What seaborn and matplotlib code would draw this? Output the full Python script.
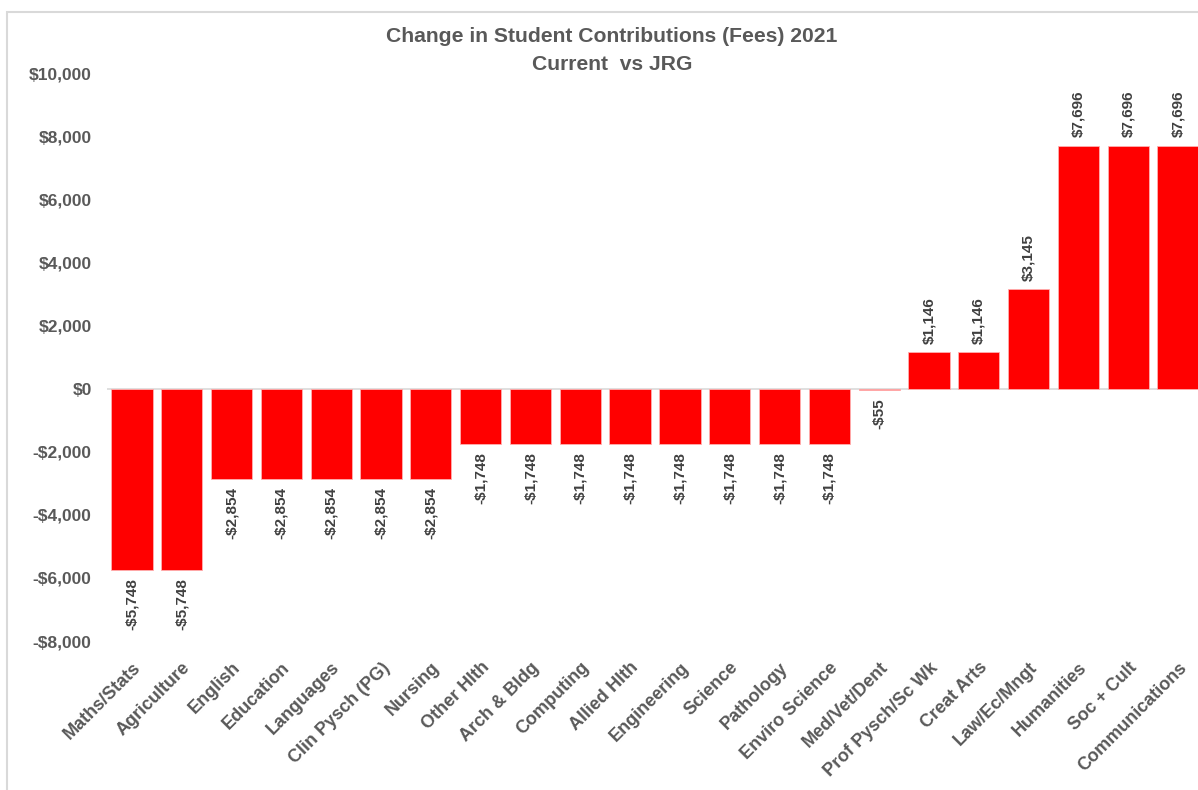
import matplotlib
matplotlib.use("Agg")
import matplotlib.pyplot as plt
from matplotlib.patches import Rectangle
from matplotlib.ticker import FuncFormatter
import seaborn as sns
import pandas as pd

categories = [
    "Maths/Stats", "Agriculture", "English", "Education", "Languages",
    "Clin Pysch (PG)", "Nursing", "Other Hlth", "Arch & Bldg", "Computing",
    "Allied Hlth", "Engineering", "Science", "Pathology", "Enviro Science",
    "Med/Vet/Dent", "Prof Pysch/Sc Wk", "Creat Arts", "Law/Ec/Mngt",
    "Humanities", "Soc + Cult", "Communications",
]
changes = [
    -5748, -5748, -2854, -2854, -2854, -2854, -2854, -1748, -1748, -1748,
    -1748, -1748, -1748, -1748, -1748, -55, 1146, 1146, 3145, 7696, 7696, 7696,
]
title_lines = ["Change in Student Contributions (Fees) 2021", "Current  vs JRG"]
y_ticks = [-8000, -6000, -4000, -2000, 0, 2000, 4000, 6000, 8000, 10000]

df = pd.DataFrame({"Field": categories, "Change": changes})

sns.set_theme(style="white")
plt.rcParams["font.family"] = ["Liberation Sans", "DejaVu Sans"]

W, H = 1198, 790
fig = plt.figure(figsize=(W / 100, H / 100), dpi=100)
fig.patch.set_facecolor("white")

# chart area outline
fig.patches.append(Rectangle((7 / W, -0.05), 1.1, 1 - 12 / H + 0.05,
                             transform=fig.transFigure, fill=False,
                             edgecolor="#d9d9d9", linewidth=1.5))

ax_left, ax_right = 107 / W, 1203 / W
ax_top, ax_bot = 1 - 73 / H, 1 - 641 / H
ax = fig.add_axes([ax_left, ax_bot, ax_right - ax_left, ax_top - ax_bot])

sns.barplot(data=df, x="Field", y="Change", color="#ff0000", saturation=1,
            width=0.83, edgecolor="#ffb0b0", linewidth=0.6, ax=ax)

ax.set_xlim(-0.5, len(categories) - 0.5)
ax.set_ylim(-8000, 10000)
ax.set_yticks(y_ticks)

def money(v, _=None):
    v = int(round(v))
    return f"-${abs(v):,}" if v < 0 else f"${v:,}"

ax.yaxis.set_major_formatter(FuncFormatter(money))
ax.axhline(0, color="#d9d9d9", linewidth=1.2, zorder=0)
for s in ax.spines.values():
    s.set_visible(False)

ax.set_xlabel("")
ax.set_ylabel("")
ax.tick_params(axis="y", length=0, pad=11, labelsize=12.5, labelcolor="#595959")
ax.tick_params(axis="x", length=0, pad=13, labelsize=13, labelcolor="#595959")
for lbl in ax.get_yticklabels():
    lbl.set_fontweight("bold")
ax.set_xticks(range(len(categories)))
ax.set_xticklabels(categories, rotation=45, ha="right",
                   rotation_mode="anchor", fontweight="bold")

# value labels
for i, v in enumerate(changes):
    off = 6 if v >= 0 else -6
    ax.annotate(money(v), (i, v), xytext=(0, off), textcoords="offset points",
                rotation=90, ha="center", va="bottom" if v >= 0 else "top",
                fontsize=11, fontweight="bold", color="#404040")

fig.text(612 / W, 1 - 36 / H, title_lines[0], ha="center", va="center",
         fontsize=15.2, fontweight="bold", color="#595959")
fig.text(612 / W, 1 - 64 / H, title_lines[1], ha="center", va="center",
         fontsize=15.2, fontweight="bold", color="#595959")

fig.savefig("out.png", dpi=100, facecolor="white")
